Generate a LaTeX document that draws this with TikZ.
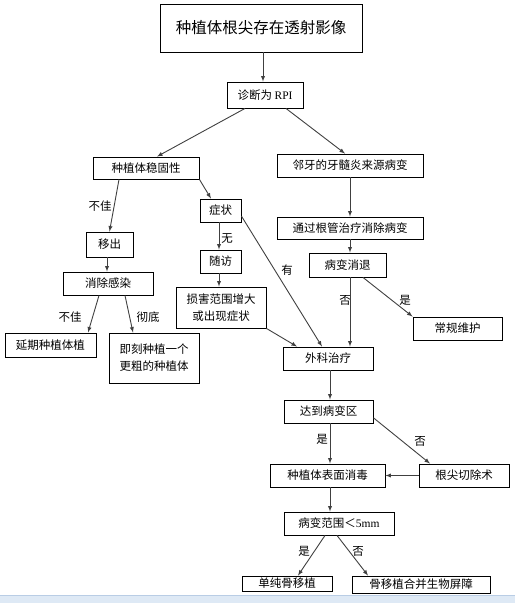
\documentclass[tikz,border=0pt]{standalone}
\usepackage{fontspec}
\setmainfont{Noto Sans CJK SC}
\newfontfamily\lat{Liberation Serif}
\definecolor{barblue}{RGB}{222,233,245}
\definecolor{barline}{RGB}{185,205,229}

\begin{document}
\begin{tikzpicture}
[x=1pt,y=-1pt,
 box/.style={shape=rectangle,draw=black,line width=0.9pt,inner sep=1pt,align=center,
	font=\fontsize{11.5}{17}\selectfont},
 lbl/.style={inner sep=0pt,font=\fontsize{11.5}{13}\selectfont},
 arr/.style={->,>=latex,draw=black!75,line width=0.9pt}]
\useasboundingbox (0,0) rectangle (515,603);

\node[box,minimum width=202pt,minimum height=48pt,font=\fontsize{15.5}{18}\selectfont] (title) at (261,28) {种植体根尖存在透射影像};
\node[box,minimum width=76pt,minimum height=26pt] (rpi) at (265,95) {诊断为 {\lat RPI}};
\node[box,minimum width=106pt,minimum height=22pt] (stab) at (146,168) {种植体稳固性};
\node[box,minimum width=146pt,minimum height=23pt] (adj) at (350,165.5) {邻牙的牙髓炎来源病变};
\node[box,minimum width=41pt,minimum height=23pt] (sym) at (220.5,210.5) {症状};
\node[box,minimum width=47pt,minimum height=25pt] (remv) at (109.5,244.5) {移出};
\node[box,minimum width=146pt,minimum height=22pt] (rct) at (350,228) {通过根管治疗消除病变};
\node[box,minimum width=90pt,minimum height=23pt] (infect) at (108,283.5) {消除感染};
\node[box,minimum width=41pt,minimum height=23pt] (follow) at (220.5,261.5) {随访};
\node[box,minimum width=77pt,minimum height=24pt] (regr) at (347.5,265) {病变消退};
\node[box,minimum width=90pt,minimum height=41pt] (damage) at (221,307.5) {损害范围增大\\或出现症状};
\node[box,minimum width=89pt,minimum height=23pt] (routine) at (457.5,328.5) {常规维护};
\node[box,minimum width=91pt,minimum height=24pt] (delay) at (50.5,345) {延期种植体植};
\node[box,minimum width=90pt,minimum height=50pt] (immed) at (154,358) {即刻种植一个\\更粗的种植体};
\node[box,minimum width=90pt,minimum height=23pt] (surg) at (328,358.5) {外科治疗};
\node[box,minimum width=89pt,minimum height=23pt] (reach) at (328.5,411.5) {达到病变区};
\node[box,minimum width=115pt,minimum height=23pt] (disinf) at (327.5,475.5) {种植体表面消毒};
\node[box,minimum width=90pt,minimum height=23pt] (apico) at (464,475.5) {根尖切除术};
\node[box,minimum width=110pt,minimum height=23pt] (size) at (339,523.5) {病变范围＜{\lat 5mm}};
\node[box,minimum width=90pt,minimum height=15pt] (graft) at (287,583.5) {单纯骨移植};
\node[box,minimum width=138pt,minimum height=17pt] (gbr) at (421,584.5) {骨移植合并生物屏障};

% labels
\node[lbl] (l1) at (100,206) {不佳};
\node[lbl] (l2) at (70,317) {不佳};
\node[lbl] (l3) at (148,317) {彻底};
\node[lbl] (l4) at (227,239) {无};
\node[lbl] (l5) at (287,270) {有};
\node[lbl] (l6) at (345,300) {否};
\node[lbl] (l7) at (405,300) {是};
\node[lbl] (l8) at (322,439) {是};
\node[lbl] (l9) at (420,441) {否};
\node[lbl] (l10) at (304,551) {是};
\node[lbl] (l11) at (358,551) {否};

\path
\foreach \startNode/\sx/\endNode/\ex in {
	title.south/2/rpi.north/-2,
	rpi.south/-20/stab.north/11,
	rpi.south/21/adj.north/-5,
	stab.south/-27/remv.north/0,
	stab.south east/0/sym.north/-9.5,
	adj.south/0/rct.north/0,
	rct.south/0/regr.north/2.5,
	remv.south/-2.5/infect.north/-1,
	infect.south/-9/delay.north/37.5,
	infect.south/17/immed.north/-21,
	sym.south/-1.5/follow.north/-1.5,
	follow.south/-1.5/damage.north/-2,
	sym.-15/0/surg.north/-6,
	damage.south east/0/surg.north/-31,
	regr.south/2.5/surg.north/22,
	regr.south/15.5/routine.north west/0,
	surg.south/2/reach.north/1.5,
	reach.south/1.5/disinf.north/2.5,
	reach.-8/0/apico.north/-34,
	apico.west/0/disinf.east/0,
	disinf.south/2.5/size.north/-9,
	size.south/-14/graft.north/11,
	size.south/-2/gbr.north/-53}{
	([xshift=\sx pt]\startNode) edge[arr] ([xshift=\ex pt]\endNode)
};

% window bar at the bottom
\fill[barblue] (0,595) rectangle (515,603);
\draw[barline,line width=0.8pt] (0,595) -- (515,595);
\end{tikzpicture}
\end{document}
